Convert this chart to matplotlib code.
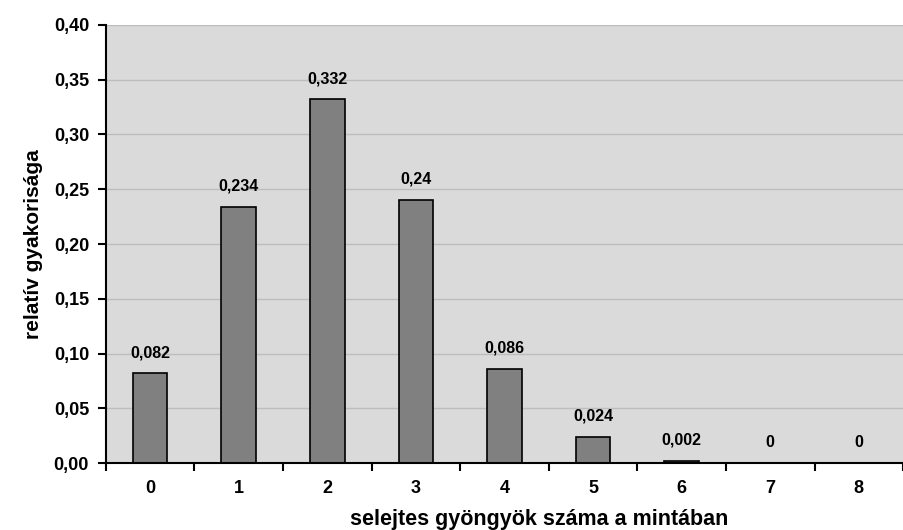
import matplotlib
matplotlib.use("Agg")
import matplotlib.pyplot as plt
import numpy as np

# data
categories = [0, 1, 2, 3, 4, 5, 6, 7, 8]
rel_freq = [0.082, 0.234, 0.332, 0.24, 0.086, 0.024, 0.002, 0, 0]
y_ticks = [0.00, 0.05, 0.10, 0.15, 0.20, 0.25, 0.30, 0.35, 0.40]

plt.rcParams.update({
    "font.family": ["Liberation Sans", "DejaVu Sans"],
    "font.weight": "bold",
})

fig = plt.figure(figsize=(9.04, 5.30), dpi=100)
ax = fig.add_axes([0.117, 0.126, 0.882, 0.827])
ax.set_facecolor("#DADADA")

x = np.arange(len(categories))
bars = ax.bar(x, rel_freq, width=0.39, color="#808080", edgecolor="black",
              linewidth=1.2, zorder=3)

for bar, val in zip(bars, rel_freq):
    txt = f"{val:g}".replace(".", ",")
    ax.annotate(txt, (bar.get_x() + bar.get_width() / 2, bar.get_height()),
                xytext=(0, 15), textcoords="offset points",
                ha="center", va="center", fontsize=11.5, fontweight="bold")

ax.set_xlim(-0.5, len(categories) - 0.5)
ax.set_ylim(0, 0.40)
ax.set_yticks(y_ticks)
ax.set_yticklabels([f"{t:.2f}".replace(".", ",") for t in y_ticks])
ax.set_xticks(x)
ax.set_xticklabels([str(c) for c in categories])
ax.set_xticks(np.arange(len(categories) + 1) - 0.5, minor=True)

ax.tick_params(axis="x", which="major", length=0, pad=12, labelsize=13)
ax.tick_params(axis="x", which="minor", length=6, width=1.5, direction="out")
ax.tick_params(axis="y", length=6, width=1.5, direction="out", labelsize=13, pad=6)

ax.grid(axis="y", color="#BDBDBD", linewidth=1, zorder=0)
for side in ("top", "right"):
    ax.spines[side].set_visible(False)
for side in ("left", "bottom"):
    ax.spines[side].set_linewidth(1.5)
    ax.spines[side].set_zorder(4)

ax.set_xlabel("selejtes gyöngyök száma a mintában", fontsize=15.5, fontweight="bold")
ax.xaxis.set_label_coords(0.543, -0.105)
ax.set_ylabel("relatív gyakorisága", fontsize=15, fontweight="bold", labelpad=8)

fig.savefig("out.png", dpi=100, facecolor="white")
